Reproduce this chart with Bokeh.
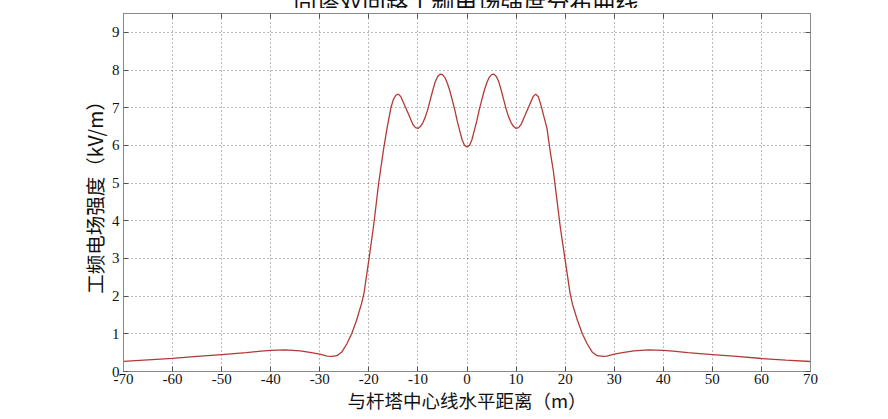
from bokeh.plotting import figure
from bokeh.models import Range1d, FixedTicker, LinearAxis, Div, CustomLabelingPolicy
from bokeh.layouts import column
from bokeh.embed import file_html
from bokeh.resources import INLINE

# distance from tower centre line (m)
x_m = [-70, -65, -60, -55, -50, -45, -42, -40, -37, -34, -32, -30, -28.5, -27.5, -26.5,
       -25.5, -24.5, -23.5, -22.5, -21.5, -21, -20, -19, -18, -17, -16.3, -15.5, -15,
       -14.5, -14, -13.5, -13, -12.5, -12, -11.5, -11, -10.5, -10, -9.5, -9, -8.5, -8,
       -7.5, -7, -6.5, -6, -5.5, -5, -4.5, -4, -3.5, -3, -2.5, -2, -1.5, -1, -0.5, 0,
       0.5, 1, 1.5, 2, 2.5, 3, 3.5, 4, 4.5, 5, 5.5, 6, 6.5, 7, 7.5, 8, 8.5, 9, 9.5, 10,
       10.5, 11, 11.5, 12, 12.5, 13, 13.5, 14, 14.5, 15, 15.5, 16.3,
       17, 17.6, 18, 19, 20, 21, 21.5, 22.5, 23.5, 24.5, 25.5, 26.5, 27.8, 28.5, 30, 32,
       34, 37, 40, 42, 45, 50, 55, 60, 65, 70]
# power-frequency electric field strength (kV/m)
e_kv = [0.27, 0.31, 0.35, 0.40, 0.45, 0.50, 0.54, 0.56, 0.575, 0.55, 0.51, 0.46, 0.41, 0.40, 0.42,
        0.52, 0.73, 1.00, 1.36, 1.80, 2.07, 2.96, 3.90, 5.0, 5.9, 6.45, 7.0, 7.22,
        7.33, 7.36, 7.3, 7.15, 7.0, 6.85, 6.7, 6.55, 6.47, 6.45, 6.5, 6.6, 6.75, 6.95,
        7.2, 7.45, 7.68, 7.82, 7.89, 7.88, 7.8, 7.65, 7.45, 7.2, 6.95, 6.65, 6.4, 6.15, 6.0, 5.96,
        6.0, 6.15, 6.4, 6.65, 6.95, 7.2, 7.45, 7.65, 7.8, 7.88, 7.89, 7.82, 7.68, 7.45, 7.2, 6.95, 6.75, 6.6, 6.5, 6.45,
        6.47, 6.55, 6.7, 6.85, 7.0, 7.15, 7.3, 7.36, 7.3, 7.1, 6.85, 6.45,
        5.8, 5.32, 4.9, 3.84, 2.96, 2.08, 1.78, 1.36, 1.0, 0.73, 0.52, 0.42, 0.40, 0.41, 0.46, 0.51,
        0.55, 0.575, 0.56, 0.54, 0.50, 0.45, 0.40, 0.345, 0.30, 0.265]

x_ticks = [-70, -60, -50, -40, -30, -20, -10, 0, 10, 20, 30, 40, 50, 60, 70]
x_tick_labels = ["-70", "-60", "-50", "-40", "-30", "-20", "-10", "0", "10", "20", "30", "40", "50", "60", "70"]
y_ticks = [0, 1, 2, 3, 4, 5, 6, 7, 8, 9]

title_text = "同塔双回路工频电场强度分布曲线"
x_label = "与杆塔中心线水平距离（m）"
y_label = "工频电场强度（kV/m）"

serif = "Liberation Serif"
cjk = "Noto Sans CJK SC"

# title strip: the title is cut by the top edge, only its lower part shows
title_div = Div(
    text=('<div style="margin-top:-17px; padding-left:80px; width:852px; text-align:center; '
          'white-space:nowrap; font-family:\'Noto Sans CJK SC\'; font-size:23px; '
          'line-height:23px; color:#111111;">' + title_text + '</div>'),
    width=888, height=8, margin=0, styles={"overflow": "hidden"})

p = figure(width=888, height=411, output_backend="svg", toolbar_location=None,
           x_range=Range1d(-70, 70), y_range=Range1d(0, 9.5),
           min_border_left=123, min_border_right=78, min_border_top=5, min_border_bottom=48)
p.background_fill_color = "white"
p.border_fill_color = "white"
p.outline_line_color = "#8a8a8a"
p.outline_line_width = 1

for ax in (p.xaxis[0], p.yaxis[0]):
    ax.axis_line_color = "#8a8a8a"
    ax.major_tick_in = 5
    ax.major_tick_out = 0
    ax.major_tick_line_color = "#555555"
    ax.minor_tick_line_color = None
    ax.major_label_text_font = serif
    ax.major_label_text_font_size = "15px"
    ax.major_label_text_color = "#111111"
    ax.axis_label_text_font = cjk
    ax.axis_label_text_font_style = "normal"
    ax.axis_label_text_color = "#111111"

p.xaxis[0].ticker = FixedTicker(ticks=x_ticks)
p.xaxis[0].major_label_overrides = {t: l for t, l in zip(x_ticks, x_tick_labels)}
p.xaxis[0].major_label_standoff = 2
p.xaxis[0].axis_label = x_label
p.xaxis[0].axis_label_text_font_size = "18.5px"
p.xaxis[0].axis_label_standoff = 0
p.yaxis[0].ticker = FixedTicker(ticks=y_ticks)
p.yaxis[0].major_label_standoff = 4
p.yaxis[0].axis_label = y_label
p.yaxis[0].axis_label_text_font_size = "19.5px"
p.yaxis[0].axis_label_standoff = 0

# inward ticks on the right and top edges, without labels
hide_labels = CustomLabelingPolicy(code="""
try { for (const i of Array.from(indices)) { indices.unset(i) } } catch (e) {}
return indices
""")
for side, ticks in (("right", y_ticks), ("above", x_ticks)):
    ax = LinearAxis(ticker=FixedTicker(ticks=ticks), major_label_policy=hide_labels)
    ax.axis_line_color = "#8a8a8a"
    ax.major_tick_in = 5
    ax.major_tick_out = 0
    ax.major_tick_line_color = "#555555"
    ax.minor_tick_line_color = None
    ax.major_label_text_font = serif
    ax.major_label_text_font_size = "15px"
    ax.major_label_text_alpha = 0
    ax.major_label_standoff = 0
    p.add_layout(ax, side)

p.xgrid.ticker = FixedTicker(ticks=x_ticks)
p.ygrid.ticker = FixedTicker(ticks=y_ticks)
for g in (p.xgrid[0], p.ygrid[0]):
    g.grid_line_color = "#555555"
    g.grid_line_dash = "1 3"
    g.grid_line_alpha = 0.8
    g.grid_line_width = 1

p.line(x_m, e_kv, line_color="#b23a36", line_width=1.3)

layout = column(title_div, p, spacing=0)
open("out.html", "w").write(file_html(layout, INLINE))
